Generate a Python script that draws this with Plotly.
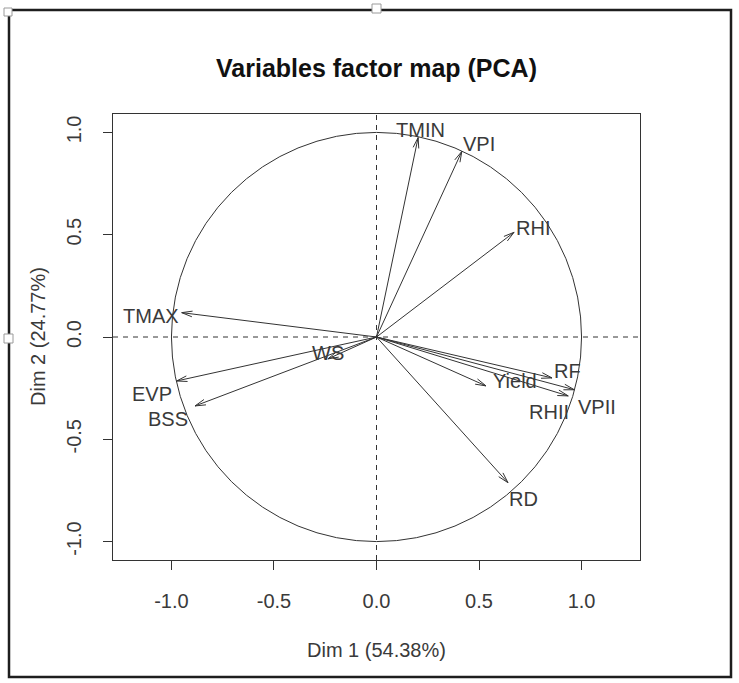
import numpy as np
import plotly.graph_objects as go

# ---- data ----
variables = ["TMIN", "VPI", "RHI", "TMAX", "WS", "EVP", "BSS", "Yield", "RF", "VPII", "RHII", "RD"]
dim1 = [0.203, 0.416, 0.671, -0.950, -0.237, -0.975, -0.885, 0.534, 0.856, 0.965, 0.935, 0.641]
dim2 = [0.975, 0.907, 0.512, 0.119, -0.107, -0.215, -0.337, -0.239, -0.200, -0.258, -0.288, -0.712]
tick_vals = [-1.0, -0.5, 0.0, 0.5, 1.0]
tick_text = ["-1.0", "-0.5", "0.0", "0.5", "1.0"]
title_text = "Variables factor map (PCA)"
x_title = "Dim 1 (54.38%)"
y_title = "Dim 2 (24.77%)"

# ---- label placement (pixel offsets from arrow tip, screen y down) ----
label_dx = [2, 17, 19, -31, 0, -25, -27, 29, 15, 23, -19, 16]
label_dy = [-8, -7, -4, 3, -6, 13, 13, -5, -7, 17, 16, 16]

W, H = 739, 683
ML, MR, MT, MB = 113, 99, 114, 123
XR = [-1.285, 1.285]
YR = [-1.09, 1.09]
pw, ph = W - ML - MR, H - MT - MB
px_per_unit = pw / (XR[1] - XR[0])

LINE = "#333333"
TXT = "#3a3a3a"
FONT = "Liberation Sans, Arial, sans-serif"

# arrow shafts
sx, sy = [], []
for x, y in zip(dim1, dim2):
    sx += [0, x, None]
    sy += [0, y, None]

# open arrow heads (R style: 15 degrees)
head_len = 11 / px_per_unit
ang = np.deg2rad(15)
hx, hy = [], []
for x, y in zip(dim1, dim2):
    th = np.arctan2(y, x)
    for s in (ang, -ang):
        hx += [x - head_len * np.cos(th + s), x, None]
        hy += [y - head_len * np.sin(th + s), y, None]

fig = go.Figure()
fig.add_trace(go.Scatter(x=sx, y=sy, mode="lines", line=dict(color=LINE, width=1),
                         hoverinfo="skip", showlegend=False))
fig.add_trace(go.Scatter(x=hx, y=hy, mode="lines", line=dict(color=LINE, width=1),
                         hoverinfo="skip", showlegend=False))

shapes = [
    dict(type="circle", xref="x", yref="y", x0=-1, x1=1, y0=-1, y1=1,
         line=dict(color=LINE, width=1)),
    dict(type="line", xref="x", yref="paper", x0=0, x1=0, y0=0, y1=1,
         line=dict(color=LINE, width=1, dash="5px,5px")),
    dict(type="line", xref="paper", yref="y", x0=0, x1=1, y0=0, y1=0,
         line=dict(color=LINE, width=1, dash="5px,5px")),
]


def px2paper(xp, yp):
    return (xp - ML) / pw, (H - MB - yp) / ph


# outer frame of the picture
x0, y0 = px2paper(9, 677)
x1, y1 = px2paper(731, 10)
shapes.append(dict(type="rect", xref="paper", yref="paper", x0=x0, x1=x1, y0=y0, y1=y1,
                   line=dict(color="#1e1e1e", width=2.5), layer="above"))
# small selection handles
for (a, b, c, d) in [(372, 4, 381, 13), (4, 334, 13, 343), (4, 8, 12, 16)]:
    p0 = px2paper(a, d)
    p1 = px2paper(c, b)
    shapes.append(dict(type="rect", xref="paper", yref="paper", x0=p0[0], x1=p1[0],
                       y0=p0[1], y1=p1[1], fillcolor="white",
                       line=dict(color="#9a9a9a", width=1), layer="above"))

annotations = []
for name, x, y, dx, dy in zip(variables, dim1, dim2, label_dx, label_dy):
    annotations.append(dict(x=x, y=y, xref="x", yref="y", text=name, showarrow=False,
                            xanchor="center", yanchor="middle", xshift=dx, yshift=-dy,
                            font=dict(family=FONT, size=20, color=TXT)))
annotations.append(dict(x=0.5, y=0, xref="paper", yref="paper", text=x_title, showarrow=False,
                        xanchor="center", yanchor="middle", yshift=-90,
                        font=dict(family=FONT, size=20, color=TXT)))
annotations.append(dict(x=0, y=0.5, xref="paper", yref="paper", text=y_title, showarrow=False,
                        xanchor="center", yanchor="middle", xshift=-75, textangle=-90,
                        font=dict(family=FONT, size=20, color=TXT)))

axis_common = dict(showgrid=False, zeroline=False, showline=True, mirror=True,
                   linecolor=LINE, linewidth=1, ticks="outside", ticklen=9,
                   tickcolor=LINE, tickwidth=1, tickvals=tick_vals, ticktext=tick_text,
                   tickfont=dict(family=FONT, size=20, color=TXT))

fig.update_layout(
    width=W, height=H,
    margin=dict(l=ML, r=MR, t=MT, b=MB, autoexpand=False),
    paper_bgcolor="white", plot_bgcolor="white",
    title=dict(text=title_text, x=(ML + pw / 2) / W, xanchor="center",
               y=1 - 68 / H, yanchor="middle",
               font=dict(family=FONT, size=25, color="#111111", weight="bold")),
    xaxis=dict(range=XR, **axis_common, ticklabelstandoff=14),
    yaxis=dict(range=YR, **axis_common, tickangle=-90, ticklabelstandoff=14),
    shapes=shapes,
    annotations=annotations,
    showlegend=False,
)

fig.write_html("out.html")
